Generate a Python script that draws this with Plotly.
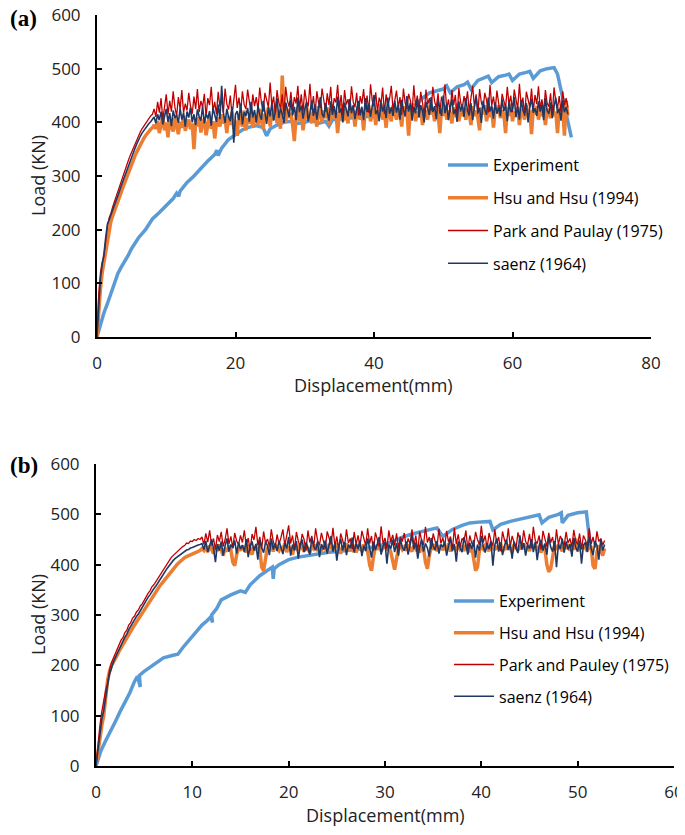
import plotly.graph_objects as go

# ======================= DATA: chart (a) =======================
exp_a_x = [0, 0.5, 1, 1.5, 2, 2.5, 3, 3.5, 4, 4.5, 5, 5.5, 6, 7, 8, 9, 10, 11, 11.5, 11.8, 12, 13, 14, 15, 16, 17,
           17.3, 17.5, 18, 19, 20, 21, 22, 23, 24, 24.5, 25, 26, 27, 28, 29, 30, 31, 32, 33, 33.5, 34, 36, 38, 40,
           42, 44, 45, 46, 47, 48, 49, 50, 50.5, 51, 52, 53, 53.5, 54, 55, 56, 56.5, 57, 58, 59, 59.5, 60, 61, 62,
           62.5, 63, 64, 65, 66, 66.5, 67, 67.5, 68, 68.5]
exp_a_y = [0, 25, 45, 62, 80, 100, 118, 130, 140, 152, 165, 175, 185, 200, 220, 232, 245, 258, 268, 262, 272, 288,
           300, 315, 328, 340, 348, 338, 352, 368, 378, 386, 391, 394, 390, 375, 388, 395, 400, 402, 398, 400, 404,
           398, 402, 393, 405, 408, 410, 412, 415, 420, 424, 432, 445, 455, 458, 462, 468, 455, 466, 470, 475, 462,
           478, 484, 486, 474, 485, 488, 490, 478, 490, 493, 495, 482, 496, 500, 502, 490, 460, 430, 395, 372]

fe_a_step = 0.25  # mm between FE output points (x = 0, 0.25, 0.5, ...)
saenz_a = [0, 70, 110, 135, 155, 185, 210, 218, 226, 236, 245, 254, 262, 272, 282, 291, 300, 310, 320, 329,
           338, 345, 352, 360, 368, 374, 380, 385, 390, 394, 398, 401, 405,
           410, 398, 415, 404, 420, 396, 412, 425, 401, 417, 393, 422, 408, 414, 399, 426, 405, 418, 392, 420,
           409, 428, 400, 415, 395, 424, 411, 403, 430, 398, 416, 407, 421, 394, 427, 412, 401, 433, 406, 468,
           418, 399, 425, 410, 402, 429, 362, 415, 421, 404, 435, 396, 419, 412, 427, 401, 438, 409, 423, 400,
           431, 414, 405, 440, 418, 397, 428, 411, 436, 403, 420, 445, 408, 426, 415, 399, 437, 421, 410, 442,
           413, 429, 404, 446, 419, 431, 407, 424, 438, 402, 417, 441, 412, 433, 405, 428, 447, 416, 409, 436,
           421, 403, 439, 414, 430, 408, 448, 418, 426, 400, 437, 422, 411, 444, 417, 432, 406, 425, 440, 413,
           429, 404, 445, 419, 435, 410, 427, 451, 415, 423, 402, 438, 420, 431, 408, 446, 416, 428, 412, 440,
           418, 433, 405, 442, 424, 411, 449, 420, 436, 403, 429, 417, 444, 409, 432, 421, 400, 438, 426, 414,
           447, 419, 430, 406, 441, 423, 412, 450, 417, 434, 404, 428, 443, 415, 425, 401, 439, 420, 433, 410,
           445, 422, 413, 436, 404, 429, 448, 418, 427, 399, 440, 424, 414, 446, 420, 431, 407, 437, 416, 428,
           411, 443, 421, 432, 402, 438, 419, 425, 447, 410, 430, 405, 442, 423, 415, 436, 400, 429, 444, 418,
           426, 412, 439, 420, 433, 404, 445, 422, 416, 437, 408, 430, 446, 417, 425, 403, 441, 419, 428, 415]
park_a = [0, 80, 120, 140, 150, 180, 205, 222, 230, 242, 252, 262, 270, 280, 290, 300, 310, 320, 328, 337,
          345, 352, 360, 368, 375, 382, 388, 393, 398, 404, 408, 412, 415,
          425, 410, 438, 418, 445, 405, 430, 452, 415, 440, 420, 458, 428, 412, 447, 425, 460, 418, 435, 422,
          455, 430, 416, 448, 425, 462, 419, 440, 428, 453, 410, 445, 432, 466, 421, 438, 415, 457, 429, 442,
          418, 463, 434, 424, 450, 412, 441, 470, 427, 446, 419, 458, 433, 425, 461, 438, 416, 452, 430, 447,
          423, 465, 436, 420, 455, 442, 428, 474, 431, 448, 417, 460, 437, 426, 452, 414, 466, 440, 429, 457,
          421, 447, 435, 468, 425, 452, 418, 461, 439, 430, 472, 424, 449, 416, 458, 436, 427, 463, 441, 420,
          454, 432, 466, 419, 445, 437, 470, 426, 451, 415, 460, 433, 443, 422, 467, 438, 428, 455, 413, 449,
          435, 462, 424, 450, 418, 471, 440, 429, 456, 420, 446, 434, 465, 416, 452, 431, 444, 468, 423, 438,
          459, 427, 447, 414, 463, 436, 425, 453, 441, 418, 469, 430, 450, 422, 457, 437, 412, 461, 433, 445,
          421, 466, 439, 428, 454, 416, 448, 435, 471, 424, 443, 419, 460, 432, 451, 410, 464, 438, 426, 449,
          433, 458, 420, 445, 468, 429, 452, 415, 462, 437, 426, 455, 442, 418, 470, 431, 448, 423, 459, 436,
          414, 453, 441, 427, 466, 433, 450, 419, 461, 438, 425, 472, 430, 446, 412, 457, 440, 428, 463, 421,
          451, 434, 467, 425, 443, 418, 460, 436, 429, 454, 414, 465, 440, 427, 449, 420, 458, 432, 445, 428]
hsu_a = [0, 50, 90, 120, 140, 162, 185, 200, 215, 225, 235, 244, 252, 261, 270, 279, 288, 297, 305, 314,
         322, 330, 338, 345, 352, 359, 365, 370, 375, 380, 384, 387, 390,
         395, 388, 402, 380, 398, 410, 385, 400, 372, 405, 392, 383, 408, 395, 378, 401, 390, 412, 384, 397,
         405, 387, 398, 350, 402, 393, 410, 381, 399, 407, 376, 395, 413, 388, 402, 370, 398, 409, 392, 415,
         398, 406, 380, 412, 395, 420, 388, 403, 375, 415, 400, 392, 422, 385, 408, 398, 418, 390, 405, 412,
         395, 425, 402, 388, 416, 410, 428, 392, 418, 405, 432, 398, 412, 388, 487, 420, 400, 425, 408, 418,
         395, 365, 412, 428, 402, 420, 385, 415, 432, 405, 418, 398, 425, 410, 392, 430, 412, 400, 422, 408,
         428, 395, 415, 432, 405, 420, 380, 418, 435, 402, 425, 412, 398, 430, 410, 422, 392, 418, 428, 405,
         420, 385, 425, 412, 432, 402, 418, 428, 395, 422, 410, 435, 405, 420, 390, 428, 415, 402, 432, 418,
         405, 425, 418, 392, 430, 412, 422, 375, 428, 415, 435, 402, 420, 410, 428, 395, 425, 418, 405, 432,
         415, 425, 402, 430, 418, 380, 425, 412, 432, 405, 422, 415, 398, 428, 410, 435, 402, 420, 412, 428,
         405, 425, 418, 395, 430, 412, 422, 408, 385, 428, 415, 432, 402, 420, 410, 428, 390, 425, 418, 432,
         408, 422, 415, 380, 428, 412, 435, 402, 420, 410, 428, 395, 425, 418, 405, 432, 412, 422, 378, 425,
         415, 430, 405, 422, 412, 428, 395, 425, 418, 408, 432, 412, 420, 380, 428, 415, 425, 375, 440, 412]

# ======================= DATA: chart (b) =======================
exp_b_x = [0, 0.5, 1, 1.5, 2, 2.5, 3, 3.5, 4, 4.3, 4.6, 4.5, 5, 6, 7, 8, 8.5, 9, 10, 11, 11.5, 11.9, 12.1, 12.0,
           12.5, 13, 14, 15, 15.5, 16, 17, 18, 18.3, 18.4, 18.5, 19, 20, 21, 22, 24, 26, 28, 30, 31, 32, 33, 34,
           35, 35.4, 36, 37, 38, 38.8, 40, 40.9, 41.2, 42, 43, 43.7, 45, 46, 46.3, 47, 48, 48.3, 48.4, 49, 50,
           50.9, 51.2]
exp_b_y = [0, 30, 50, 68, 88, 108, 125, 145, 168, 178, 157, 180, 188, 202, 215, 220, 222, 235, 258, 280, 288,
           296, 285, 300, 312, 330, 340, 348, 345, 360, 378, 390, 395, 372, 392, 400, 410, 415, 418, 424, 428,
           432, 440, 448, 456, 462, 466, 470, 473, 456, 470, 478, 483, 485, 486, 469, 480, 486, 489, 494, 499,
           483, 494, 500, 503, 483, 498, 503, 505, 455]

fe_b_step = 0.2
hsu_b = [0, 30, 60, 80, 100, 140, 170, 188, 200, 206, 212, 220, 228, 235, 242, 249, 255, 262, 268, 274,
         280, 286, 292, 299, 305, 312, 318, 324, 330, 336, 342, 347, 352, 357, 362, 367, 372, 377, 382, 387,
         392, 396, 400, 404, 408, 411, 414, 416, 418, 420, 422, 424, 425, 427, 428,
         432, 428, 436, 425, 438, 430, 422, 435, 427, 440, 431, 418, 433, 426, 438, 429, 405, 398, 420, 434, 428,
         437, 430, 425, 439, 432, 420, 436, 428, 442, 431, 395, 388, 418, 435, 430, 438, 426, 440, 433, 428, 436,
         430, 442, 425, 436, 431, 420, 438, 433, 428, 441, 435, 426, 439, 430, 424, 437, 432, 440, 427, 434, 429,
         438, 431, 425, 441, 434, 428, 436, 440, 430, 422, 437, 433, 442, 427, 435, 430, 439, 424, 436, 432, 428,
         440, 433, 426, 400, 388, 415, 436, 430, 438, 427, 434, 441, 429, 436, 425, 408, 390, 412, 432, 438, 430,
         435, 428, 440, 432, 426, 438, 431, 437, 424, 439, 433, 405, 392, 418, 436, 430, 441, 427, 434, 438, 429,
         436, 430, 442, 426, 438, 433, 428, 440, 431, 435, 427, 439, 432, 425, 437, 410, 388, 395, 428, 436, 431,
         438, 432, 427, 441, 434, 429, 437, 431, 443, 426, 436, 430, 439, 433, 425, 440, 435, 428, 437, 431, 442,
         430, 436, 427, 439, 433, 441, 428, 435, 424, 438, 432, 400, 386, 392, 420, 437, 430, 440, 434, 427, 438,
         432, 440, 428, 435, 430, 452, 426, 437, 431, 439, 433, 427, 440, 435, 398, 392, 425, 438, 430, 418, 432]
park_b = [0, 45, 80, 108, 130, 150, 165, 190, 205, 214, 222, 233, 240, 250, 255, 265, 270, 280, 285, 294,
          298, 306, 310, 318, 322, 330, 335, 343, 348, 356, 360, 366, 372, 380, 385, 392, 398, 404, 408, 414,
          418, 422, 425, 430, 432, 436, 438, 443, 442, 447, 446, 450, 448, 452, 450,
          455, 440, 462, 445, 468, 438, 452, 430, 459, 446, 465, 436, 450, 472, 441, 456, 433, 463, 447, 440, 458,
          444, 468, 437, 453, 428, 461, 449, 475, 439, 455, 432, 466, 443, 451, 436, 470, 446, 434, 460, 441, 454,
          470, 438, 455, 478, 442, 458, 430, 465, 447, 436, 461, 450, 428, 468, 444, 457, 435, 472, 448, 439, 463,
          445, 432, 466, 451, 440, 473, 437, 456, 429, 462, 446, 435, 470, 443, 452, 431, 465, 440, 458, 436, 467,
          449, 438, 472, 442, 457, 427, 464, 447, 436, 476, 441, 453, 432, 468, 445, 459, 438, 462, 433, 455, 446,
          463, 434, 452, 441, 470, 437, 458, 426, 466, 448, 439, 475, 444, 455, 431, 462, 447, 436, 471, 442, 453,
          438, 467, 445, 456, 430, 473, 441, 460, 435, 452, 447, 468, 429, 458, 443, 436, 465, 450, 439, 477, 444,
          458, 432, 463, 447, 438, 470, 442, 455, 427, 466, 449, 440, 472, 436, 457, 445, 431, 464, 452, 437, 468,
          446, 439, 461, 433, 475, 448, 442, 458, 430, 467, 451, 436, 463, 444, 455, 428, 470, 440, 457, 446, 438,
          465, 443, 452, 435, 469, 447, 440, 462, 431, 458, 449, 437, 472, 441, 455, 434, 466, 446, 452, 439, 448]
saenz_b = [0, 35, 70, 92, 110, 140, 160, 182, 195, 206, 215, 224, 232, 241, 248, 256, 262, 271, 278, 285,
           290, 297, 302, 309, 315, 322, 328, 335, 340, 347, 352, 357, 362, 369, 375, 382, 388, 393, 398, 404,
           408, 412, 415, 418, 420, 424, 426, 429, 430, 433, 434, 436, 438, 439, 440,
           442, 430, 447, 425, 438, 450, 432, 405, 441, 428, 446, 418, 437, 452, 426, 440, 433, 448, 422, 444, 431,
           439, 425, 451, 415, 436, 446, 428, 441, 410, 449, 433, 424, 445, 438, 419, 452, 430, 442, 427, 447, 436,
           421, 443, 432, 455, 418, 440, 428, 447, 412, 438, 450, 425, 444, 433, 420, 453, 436, 429, 446, 415, 441,
           430, 448, 422, 439, 457, 426, 443, 408, 437, 451, 428, 445, 419, 440, 433, 454, 424, 442, 431, 448, 417,
           438, 427, 452, 433, 414, 446, 429, 441, 455, 420, 437, 445, 402, 440, 432, 449, 425, 443, 418, 451, 434,
           428, 446, 420, 439, 458, 431, 444, 412, 436, 450, 426, 442, 433, 416, 453, 437, 429, 447, 422, 440, 435,
           445, 418, 438, 452, 427, 441, 406, 446, 433, 425, 455, 438, 420, 443, 431, 449, 414, 440, 428, 457, 436,
           424, 442, 431, 447, 398, 439, 452, 426, 444, 419, 437, 450, 429, 441, 412, 446, 434, 423, 458, 430, 443,
           418, 440, 432, 451, 425, 445, 409, 438, 449, 428, 442, 420, 455, 435, 426, 447, 395, 440, 431, 452, 424,
           446, 430, 441, 416, 453, 434, 427, 448, 402, 439, 444, 425, 456, 432, 419, 447, 438, 410, 451, 428, 440]

names_a = ["Experiment", "Hsu and Hsu (1994)", "Park and Paulay (1975)", "saenz (1964)"]
names_b = ["Experiment", "Hsu and Hsu (1994)", "Park and Pauley (1975)", "saenz (1964)"]
x_ticks_a = [0, 20, 40, 60, 80]
x_ticks_b = [0, 10, 20, 30, 40, 50, 60]
y_ticks = [0, 100, 200, 300, 400, 500, 600]

colors = ["#5B9BD5", "#ED7D31", "#C00000", "#203864"]
widths = [3.5, 3.5, 1.3, 1.6]
FONT = "Open Sans"


def grid(vals, step):
    return [round(i * step, 2) for i in range(len(vals))]


fig = go.Figure()

series_a = [(exp_a_x, exp_a_y), (grid(hsu_a, fe_a_step), hsu_a),
            (grid(park_a, fe_a_step), park_a), (grid(saenz_a, fe_a_step), saenz_a)]
series_b = [(exp_b_x, exp_b_y), (grid(hsu_b, fe_b_step), hsu_b),
            (grid(park_b, fe_b_step), park_b), (grid(saenz_b, fe_b_step), saenz_b)]

for i, (xs, ys) in enumerate(series_a):
    fig.add_trace(go.Scatter(x=xs, y=ys, mode="lines", name=names_a[i],
                             line=dict(color=colors[i], width=widths[i]),
                             xaxis="x", yaxis="y", legend="legend", legendgroup="a%d" % i))
for i, (xs, ys) in enumerate(series_b):
    fig.add_trace(go.Scatter(x=xs, y=ys, mode="lines", name=names_b[i],
                             line=dict(color=colors[i], width=widths[i]),
                             xaxis="x2", yaxis="y2", legend="legend2", legendgroup="b%d" % i))

# page body has an 8px margin, so the figure is a bit smaller than the window
OFF = 8
W, H = 677, 819


def px_x(p):
    return (p - OFF) / W


def px_y(p):
    return 1 - (p - OFF) / H


base = dict(showline=True, linecolor="black", linewidth=2, ticks="inside", ticklen=5,
            tickwidth=2, tickcolor="black", showgrid=False, zeroline=False, automargin=False,
            ticklabeloverflow="allow",
            tickfont=dict(family=FONT, size=17, color="#222"))
xax = dict(base, ticklabelstandoff=10)
yax = dict(base, ticklabelstandoff=11)

fig.update_layout(
    width=W, height=H, margin=dict(l=0, r=0, t=0, b=0, pad=0, autoexpand=False),
    paper_bgcolor="white", plot_bgcolor="white",
    xaxis=dict(domain=[px_x(97), px_x(651)], range=[0, 80], tickvals=x_ticks_a, anchor="y", **xax),
    yaxis=dict(domain=[px_y(337), px_y(15)], range=[0, 600], tickvals=y_ticks, anchor="x", **yax),
    xaxis2=dict(domain=[px_x(96), px_x(674)], range=[0, 60], tickvals=x_ticks_b, anchor="y2", **xax),
    yaxis2=dict(domain=[px_y(766), px_y(464)], range=[0, 600], tickvals=y_ticks, anchor="x2", **yax),
    legend=dict(x=px_x(443), y=px_y(148), xanchor="left", yanchor="top", bgcolor="rgba(0,0,0,0)",
                font=dict(family=FONT, size=16, color="black"), tracegroupgap=9, itemwidth=40),
    legend2=dict(x=px_x(449), y=px_y(584), xanchor="left", yanchor="top", bgcolor="rgba(0,0,0,0)",
                 font=dict(family=FONT, size=16, color="black"), tracegroupgap=8, itemwidth=40),
    showlegend=True,
)

ann_font = dict(family=FONT, size=18, color="#222")
fig.add_annotation(text="Displacement(mm)", x=px_x(374), y=px_y(385), xref="paper", yref="paper",
                   showarrow=False, font=ann_font, xanchor="center", yanchor="middle")
fig.add_annotation(text="Load (KN)", x=px_x(38), y=px_y(176), xref="paper", yref="paper",
                   showarrow=False, font=ann_font, textangle=-90, xanchor="center", yanchor="middle")
fig.add_annotation(text="Displacement(mm)", x=px_x(385), y=px_y(815), xref="paper", yref="paper",
                   showarrow=False, font=ann_font, xanchor="center", yanchor="middle")
fig.add_annotation(text="Load (KN)", x=px_x(38), y=px_y(615), xref="paper", yref="paper",
                   showarrow=False, font=ann_font, textangle=-90, xanchor="center", yanchor="middle")
lab_font = dict(family="Liberation Serif", size=23, color="black")
fig.add_annotation(text="<b>(a)</b>", x=px_x(OFF), y=px_y(19), xref="paper", yref="paper",
                   showarrow=False, font=lab_font, xanchor="left", yanchor="middle")
fig.add_annotation(text="<b>(b)</b>", x=px_x(OFF), y=px_y(465), xref="paper", yref="paper",
                   showarrow=False, font=lab_font, xanchor="left", yanchor="middle")

fig.write_html("out.html")
